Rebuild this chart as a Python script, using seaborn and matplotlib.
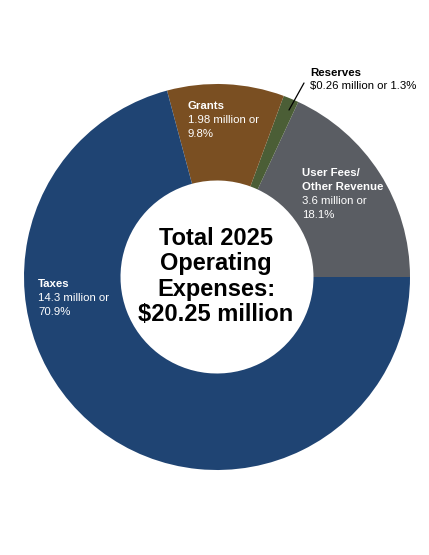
import matplotlib.pyplot as plt
import seaborn as sns

sns.set_theme(style="white")
plt.rcParams['font.family'] = ['Liberation Sans', 'DejaVu Sans']

# data (counter-clockwise from 3 o'clock)
categories = ['User Fees/\nOther Revenue', 'Reserves', 'Grants', 'Taxes']
amounts = ['3.6 million or', '$0.26 million or 1.3%', '1.98 million or', '14.3 million or']
shares = [18.1, 1.3, 9.8, 70.9]
colors = ['#5a5d63', '#4b5e36', '#7a4f22', '#1f4473']
total_lines = ['Total 2025', 'Operating', 'Expenses:', '$20.25 million']

W, H = 429, 555
fig = plt.figure(figsize=(W / 100, H / 100), dpi=100)
fig.patch.set_facecolor('white')

# donut centre and radius in pixels
cx, cy, R = 217, 277, 193
ax = fig.add_axes([(cx - R) / W, (H - cy - R) / H, 2 * R / W, 2 * R / H])
ax.pie(shares, colors=colors, startangle=0, counterclock=True,
       radius=1, wedgeprops=dict(width=0.5, linewidth=0))
ax.set_xlim(-1, 1)
ax.set_ylim(-1, 1)
ax.set_aspect('equal')
ax.axis('off')


def px(x, y):
    return x / W, 1 - y / H


def label(x, y, lines, color, step=14):
    # first line bold, rest regular
    for i, (txt, bold) in enumerate(lines):
        fig.text(*px(x, y + i * step), txt, color=color, fontsize=8.2,
                 fontweight='bold' if bold else 'normal',
                 ha='left', va='baseline')


uf_name = categories[0].split('\n')
label(302, 176, [(uf_name[0], True), (uf_name[1], True),
                 (amounts[0], False), (f'{shares[0]}%', False)], 'white')
label(310, 76, [(categories[1], True), (amounts[1], False)], 'black', step=12.5)
label(188, 109, [(categories[2], True), (amounts[2], False),
                 (f'{shares[2]}%', False)], 'white')
label(38, 287, [(categories[3], True), (amounts[3], False),
                (f'{shares[3]}%', False)], 'white')

# leader line for Reserves
fig.add_artist(plt.Line2D([304 / W, 289 / W], [1 - 83 / H, 1 - 110 / H],
                          transform=fig.transFigure, color='black', lw=0.9))

# centre text
for i, t in enumerate(total_lines):
    fig.text(*px(216, 245 + i * 25.3), t, fontsize=17, fontweight='bold',
             color='black', ha='center', va='baseline')

fig.savefig('out.png', dpi=100, facecolor='white')
